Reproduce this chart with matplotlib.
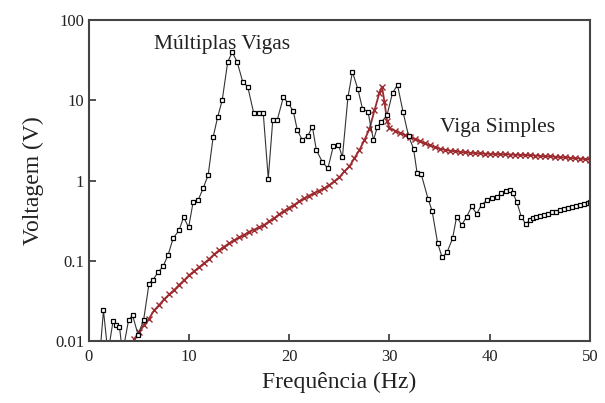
import matplotlib
matplotlib.use("Agg")
import matplotlib.pyplot as plt
from matplotlib.ticker import NullLocator, FixedLocator, FixedFormatter

plt.rcParams['font.family'] = ['Liberation Serif', 'DejaVu Serif']

# Multiplas Vigas (black squares)
freq_multi = [1.1, 1.45, 1.9, 2.4, 2.75, 3.05, 3.35, 3.95, 4.35, 4.9, 5.45,
              6.0, 6.4, 6.9, 7.4, 7.9, 8.4, 9.0, 9.45, 9.95, 10.4, 10.9,
              11.4, 11.9, 12.4, 12.85, 13.3, 13.85, 14.3, 14.8, 15.35, 15.85,
              16.45, 16.95, 17.4, 17.9, 18.35, 18.8, 19.4, 19.9, 20.4, 20.8,
              21.3, 21.85, 22.3, 22.7, 23.3, 23.85, 24.4, 24.9, 25.3, 25.85,
              26.3, 26.85, 27.3, 27.85, 28.4, 28.8, 29.2, 29.75, 30.3, 30.8,
              31.35, 31.9, 32.4, 32.75, 33.15, 33.85, 34.25, 34.8, 35.25, 35.75,
              36.3, 36.7, 37.2, 37.7, 38.2, 38.7, 39.2, 39.75, 40.25, 40.7,
              41.15, 41.6, 42.0, 42.3, 42.7, 43.15, 43.6, 44.0, 44.3, 44.6,
              45.0, 45.4, 45.8, 46.2, 46.6, 47.0, 47.4, 47.8, 48.2, 48.6,
              49.0, 49.4, 49.8, 50.0]
volt_multi = [0.007, 0.024, 0.007, 0.0175, 0.016, 0.015, 0.007, 0.018, 0.021, 0.012, 0.018,
              0.052, 0.058, 0.072, 0.085, 0.118, 0.19, 0.24, 0.35, 0.26, 0.54, 0.57,
              0.8, 1.17, 3.5, 6.2, 10.0, 30.0, 40.0, 30.0, 17.0, 14.8,
              6.9, 6.9, 6.9, 1.06, 5.7, 5.7, 10.9, 9.2, 7.3, 4.25,
              3.2, 3.6, 4.7, 2.4, 1.7, 1.42, 2.7, 2.8, 1.95, 10.9,
              22.7, 13.7, 7.9, 7.2, 3.2, 4.7, 5.4, 6.5, 12.4, 15.5,
              7.2, 3.6, 2.5, 1.25, 1.22, 0.59, 0.42, 0.167, 0.11, 0.128,
              0.19, 0.355, 0.28, 0.352, 0.475, 0.385, 0.5, 0.57, 0.6, 0.63,
              0.69, 0.75, 0.77, 0.7, 0.545, 0.354, 0.287, 0.32, 0.34, 0.35,
              0.36, 0.37, 0.385, 0.4, 0.41, 0.43, 0.44, 0.455, 0.47, 0.48,
              0.49, 0.51, 0.53, 0.54]

# Viga Simples (red crosses)
freq_simple = [4.5, 5.0, 5.5, 6.0, 6.5, 7.0, 7.5, 8.0, 8.5, 9.0, 9.5, 10.0,
               10.5, 11.0, 11.5, 12.0, 12.5, 13.0, 13.5, 14.0, 14.5, 15.0, 15.5,
               16.0, 16.5, 17.0, 17.5, 18.0, 18.5, 19.0, 19.5, 20.0, 20.5, 21.0,
               21.5, 22.0, 22.5, 23.0, 23.5, 24.0, 24.5, 25.0, 25.5, 26.0, 26.5,
               27.0, 27.5, 28.0, 28.5, 29.0, 29.25, 29.5, 29.75, 30.0, 30.5, 31.0,
               31.5, 32.0, 32.5, 33.0, 33.5, 34.0, 34.5, 35.0, 35.5, 36.0, 36.5,
               37.0, 37.5, 38.0, 38.5, 39.0, 39.5, 40.0, 40.5, 41.0, 41.5, 42.0,
               42.5, 43.0, 43.5, 44.0, 44.5, 45.0, 45.5, 46.0, 46.5, 47.0, 47.5,
               48.0, 48.5, 49.0, 49.5, 50.0]
volt_simple = [0.0105, 0.0128, 0.016, 0.019, 0.024, 0.028, 0.033, 0.038, 0.043, 0.05, 0.057, 0.066,
               0.074, 0.083, 0.093, 0.105, 0.12, 0.135, 0.15, 0.165, 0.18, 0.195, 0.21,
               0.23, 0.245, 0.26, 0.28, 0.31, 0.34, 0.38, 0.42, 0.46, 0.5, 0.55,
               0.6, 0.65, 0.7, 0.75, 0.8, 0.88, 0.98, 1.1, 1.3, 1.5, 1.9,
               2.4, 3.2, 4.4, 7.5, 12.5, 14.8, 9.5, 5.6, 4.5, 4.2, 3.95,
               3.72, 3.5, 3.3, 3.1, 2.9, 2.75, 2.62, 2.5, 2.42, 2.36, 2.32,
               2.28, 2.25, 2.22, 2.2, 2.18, 2.16, 2.15, 2.14, 2.13, 2.12, 2.11,
               2.1, 2.09, 2.08, 2.07, 2.05, 2.03, 2.01, 2.0, 1.98, 1.96, 1.94,
               1.92, 1.9, 1.88, 1.85, 1.82]

fig = plt.figure(figsize=(6.05, 4.03), dpi=100, facecolor='white')
ax = fig.add_axes([0.147, 0.154, 0.828, 0.796])

ax.plot(freq_simple, volt_simple, color='#9c2a2e', lw=1.3, marker='x',
        ms=4.5, mew=1.0)
ax.plot(freq_multi, volt_multi, color='#333333', lw=0.8, marker='s', ms=3.5,
        mfc='white', mec='black', mew=0.9)

ax.set_yscale('log')
ax.set_xlim(0, 50)
ax.set_ylim(0.01, 100)
ax.xaxis.set_major_locator(FixedLocator([0, 10, 20, 30, 40, 50]))
ax.yaxis.set_major_locator(FixedLocator([0.01, 0.1, 1, 10, 100]))
ax.yaxis.set_major_formatter(FixedFormatter(['0.01', '0.1', '1', '10', '100']))
ax.yaxis.set_minor_locator(NullLocator())
ax.tick_params(direction='in', length=5, width=1.2, labelsize=12,
               colors='#333333', labelcolor='#222222')
ax.tick_params(axis='x', pad=6)

for spine in ax.spines.values():
    spine.set_color('#444444')
    spine.set_linewidth(1.5)

ax.set_xlabel('Frequência (Hz)', fontsize=17, color='#222222', labelpad=5)
ax.set_ylabel('Voltagem (V)', fontsize=17, color='#222222', labelpad=8)

ax.text(0.13, 0.925, 'Múltiplas Vigas', transform=ax.transAxes, fontsize=15.5,
        color='#222222', ha='left', va='center')
ax.text(0.70, 0.665, 'Viga Simples', transform=ax.transAxes, fontsize=15.5,
        color='#222222', ha='left', va='center')

fig.savefig('out.png', dpi=100)
